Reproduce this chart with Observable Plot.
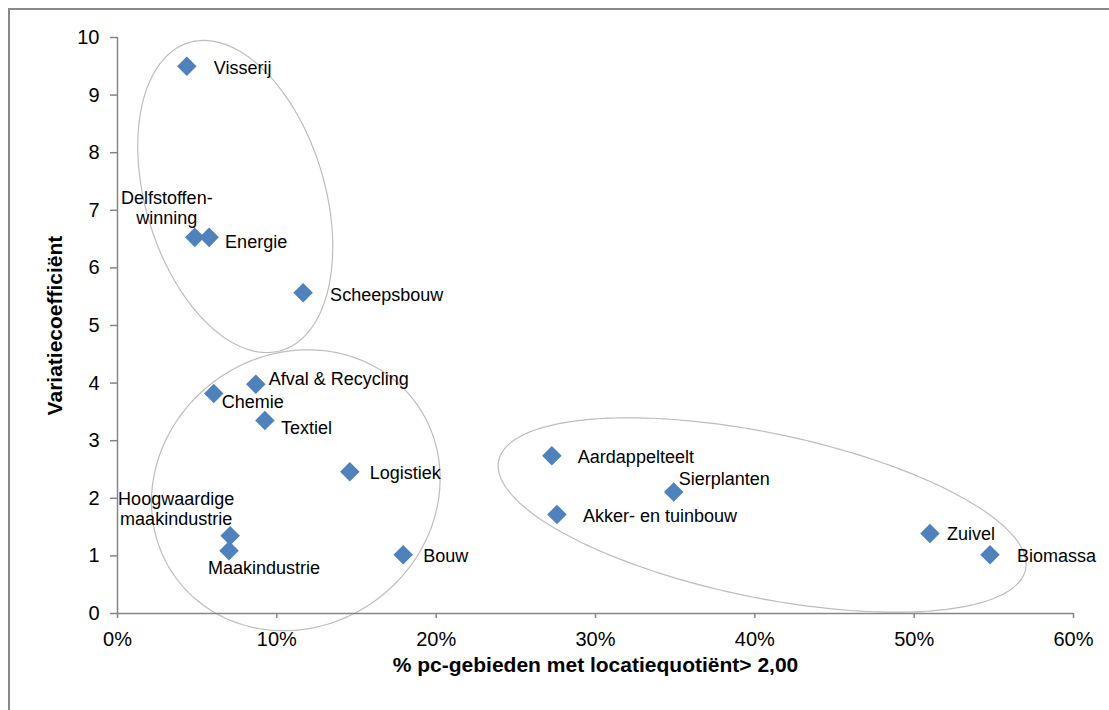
<!DOCTYPE html>
<html><head><meta charset="utf-8">
<script src="https://cdn.jsdelivr.net/npm/d3@7"></script>
<script src="https://cdn.jsdelivr.net/npm/@observablehq/plot@0.6"></script>
<style>
body{margin:0;background:#fff;overflow:hidden}
#wrap{position:relative;width:1109px;height:710px;color:#000}
#frame{position:absolute;left:8px;top:8px;width:1200px;height:800px;border-left:2px solid #898989;border-top:2px solid #898989;pointer-events:none}
#wrap svg g[aria-label="x-axis tick"], #wrap svg g[aria-label="y-axis tick"]{stroke:#868686;stroke-width:1.5}
</style></head>
<body><div id="wrap"><div id="chart"></div><div id="frame"></div></div>
<script>
// ---- data ----
const sectors = ["Visserij","Delfstoffen-\nwinning","Energie","Scheepsbouw","Afval & Recycling","Chemie","Textiel","Logistiek","Hoogwaardige\nmaakindustrie","Maakindustrie","Bouw","Aardappelteelt","Sierplanten","Akker- en tuinbouw","Zuivel","Biomassa"];
const pctAreas = [4.35, 4.85, 5.75, 11.65, 8.68, 6.04, 9.25, 14.58, 7.07, 7.0, 17.93, 27.26, 34.91, 27.58, 50.99, 54.76];
const variationCoef = [9.50, 6.53, 6.53, 5.57, 3.98, 3.82, 3.35, 2.46, 1.35, 1.09, 1.02, 2.74, 2.11, 1.72, 1.39, 1.02];
const xTicks = [0, 10, 20, 30, 40, 50, 60];
const yTicks = [0, 1, 2, 3, 4, 5, 6, 7, 8, 9, 10];
const xTitle = "% pc-gebieden met locatiequotiënt> 2,00";
const yTitle = "Variatiecoefficiënt";

// ---- label placement (offsets in px) ----
const labelPlacement = [
  [27, 1, "start"], [-28, -30, "middle"], [16, 4, "start"], [27, 2, "start"],
  [13, -6, "start"], [8, 8, "start"], [16, 7, "start"], [20, 1, "start"],
  [-54, -27, "middle"], [35, 17, "middle"], [20, 1, "start"], [26, 1, "start"],
  [5, -13, "start"], [26, 1, "start"], [17, 0, "start"], [27, 1, "start"]
];
// ---- annotation ellipses: centre in data units, semi-axes in px, angle in degrees ----
const ellipses = [
  {cx: 7.39, cy: 7.24, a: 160.7, b: 89.6, angle: 73.25},
  {cx: 11.19, cy: 2.14, a: 148.5, b: 136, angle: -36},
  {cx: 40.46, cy: 1.71, a: 269, b: 82.3, angle: 11.65}
];

const idx = sectors.map((_, i) => i);
const diamond = {draw(ctx, size) { const r = Math.sqrt(size) * 0.62625; ctx.moveTo(0, -r); ctx.lineTo(r, 0); ctx.lineTo(0, r); ctx.lineTo(-r, 0); ctx.closePath(); }};

function build(extraMarks) {
  return Plot.plot({
    width: 1109, height: 710,
    marginLeft: 117, marginRight: 36, marginTop: 37, marginBottom: 97,
    x: {domain: [0, 60]},
    y: {domain: [0, 10]},
    style: {fontFamily: "'Liberation Sans', Arial, sans-serif", fontSize: "18px", background: "transparent", overflow: "visible"},
    marks: [
      ...extraMarks,
      Plot.axisX({ticks: xTicks, tickFormat: d => d + "%", tickSize: 5, tickPadding: 13, fontSize: 20, label: null}),
      Plot.axisY({ticks: yTicks, tickSize: 7, tickPadding: 11, fontSize: 20, label: null}),
      Plot.ruleY([0], {stroke: "#868686", strokeWidth: 1.5}),
      Plot.ruleX([0], {stroke: "#868686", strokeWidth: 1.5}),
      Plot.dot(idx, {x: i => pctAreas[i], y: i => variationCoef[i], symbol: diamond, r: 8.8, fill: "#4F81BD", stroke: "none"}),
      ...idx.map(i => Plot.text([i], {x: i => pctAreas[i], y: i => variationCoef[i], text: i => sectors[i],
        dx: labelPlacement[i][0], dy: labelPlacement[i][1], textAnchor: labelPlacement[i][2],
        lineAnchor: "middle", lineHeight: 1.11, fontSize: 18, fill: "#000"})),
      Plot.text([xTitle], {text: d => d, frameAnchor: "bottom", dy: 58, textAnchor: "middle", fontWeight: "bold", fontSize: 21, fill: "#000"}),
      Plot.text([yTitle], {text: d => d, frameAnchor: "left", dx: -62, rotate: -90, textAnchor: "middle", fontWeight: "bold", fontSize: 21, fill: "#000"})
    ]
  });
}

const probe = build([]);
const sx = probe.scale("x"), sy = probe.scale("y");
const ellPts = [];
ellipses.forEach((e, k) => {
  const cx = sx.apply(e.cx), cy = sy.apply(e.cy), th = e.angle * Math.PI / 180;
  for (let i = 0; i <= 240; i++) {
    const t = i / 240 * 2 * Math.PI;
    const px = cx + e.a * Math.cos(t) * Math.cos(th) - e.b * Math.sin(t) * Math.sin(th);
    const py = cy + e.a * Math.cos(t) * Math.sin(th) + e.b * Math.sin(t) * Math.cos(th);
    ellPts.push({id: k, x: sx.invert(px), y: sy.invert(py)});
  }
});
const chart = build([Plot.line(ellPts, {x: "x", y: "y", z: "id", stroke: "#bdbdbd", strokeWidth: 1.2, curve: "linear"})]);
document.getElementById("chart").appendChild(chart);
</script>
</body></html>
